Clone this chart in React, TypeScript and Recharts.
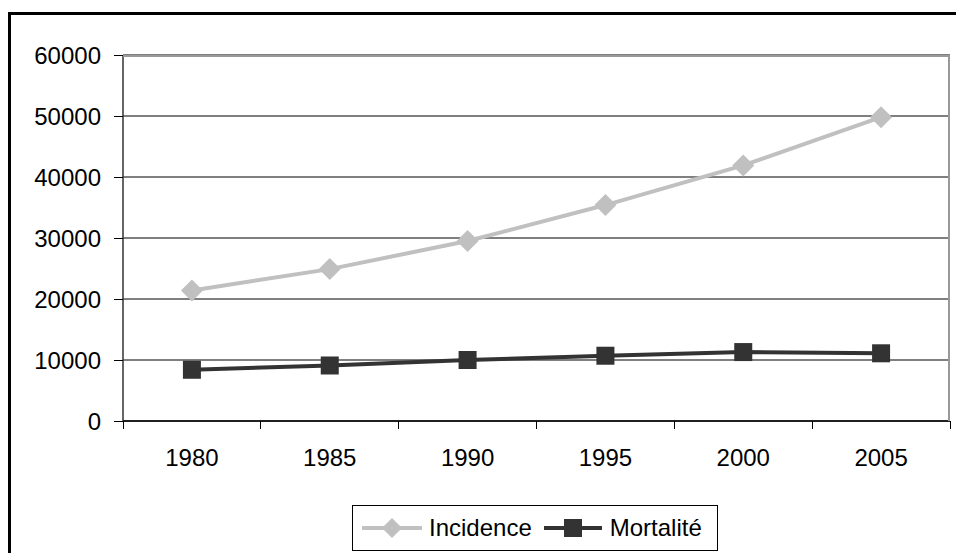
import React from 'react';
import { ComposedChart, Line, XAxis, YAxis, CartesianGrid } from 'recharts';

const years = ['1980', '1985', '1990', '1995', '2000', '2005'];
const incidence = [21400, 24900, 29500, 35400, 41900, 49800];
const mortalite = [8400, 9100, 10000, 10700, 11300, 11100];
const yTicks = [0, 10000, 20000, 30000, 40000, 50000, 60000];

const data = years.map((year, i) => ({ year, incidence: incidence[i], mortalite: mortalite[i] }));

const W = 956;
const H = 553;
const PLOT_LEFT = 123;
const PLOT_RIGHT = 950;
const BAND = (PLOT_RIGHT - PLOT_LEFT) / years.length;
const FONT = '"Liberation Sans", Arial, sans-serif';

const Diamond = (props: any) => {
  const { cx, cy, index } = props;
  if (cx == null || cy == null) return null;
  const r = 11;
  return (
    <path
      key={`d-${index}`}
      d={`M${cx},${cy - r}L${cx + r},${cy}L${cx},${cy + r}L${cx - r},${cy}Z`}
      fill="#c0c0c0"
    />
  );
};

const Square = (props: any) => {
  const { cx, cy, index } = props;
  if (cx == null || cy == null) return null;
  const s = 9;
  return <rect key={`s-${index}`} x={cx - s} y={cy - s} width={s * 2} height={s * 2} fill="#333333" />;
};

const XTick = (props: any) => {
  const { x, y, payload, index } = props;
  const axisY = y - 28;
  return (
    <g>
      <line x1={x - BAND / 2} x2={x - BAND / 2} y1={axisY} y2={axisY + 8} stroke="#000" strokeWidth={1} shapeRendering="crispEdges" />
      {index === years.length - 1 && (
        <line x1={x + BAND / 2} x2={x + BAND / 2} y1={axisY} y2={axisY + 8} stroke="#000" strokeWidth={1} shapeRendering="crispEdges" />
      )}
      <text x={x} y={y} dy="0.71em" textAnchor="middle" fontSize={24} fontFamily={FONT} fill="#000">
        {payload.value}
      </text>
    </g>
  );
};

const Legend = () => (
  <div
    style={{
      position: 'absolute',
      left: 352,
      top: 505,
      width: 366,
      height: 46,
      boxSizing: 'border-box',
      border: '1px solid #000',
      background: '#fff',
      display: 'flex',
      alignItems: 'center',
      fontFamily: FONT,
      fontSize: 24,
      color: '#000',
    }}
  >
    <svg width={68} height={30} style={{ marginLeft: 6 }}>
      <line x1={3} x2={63} y1={15} y2={15} stroke="#c0c0c0" strokeWidth={4} />
      <path d="M33,5L43,15L33,25L23,15Z" fill="#c0c0c0" />
    </svg>
    <span style={{ marginLeft: 2 }}>Incidence</span>
    <svg width={68} height={30} style={{ marginLeft: 8 }}>
      <line x1={4} x2={62} y1={15} y2={15} stroke="#333" strokeWidth={4} />
      <rect x={24} y={6} width={18} height={18} fill="#333" />
    </svg>
    <span style={{ marginLeft: 2 }}>Mortalité</span>
  </div>
);

export default function App() {
  return (
    <div style={{ position: 'absolute', left: 0, top: 0, width: W, height: H, overflow: 'hidden', background: '#fff' }}>
      <div
        style={{
          position: 'absolute',
          left: 8,
          top: 12,
          width: W + 20,
          height: H + 20,
          border: '3px solid #000',
        }}
      />
      <div style={{ position: 'absolute', left: 0, top: 0 }}>
        <ComposedChart width={W} height={H} data={data} margin={{ top: 55, right: W - PLOT_RIGHT, left: 8, bottom: 82 }}>
          <CartesianGrid
            vertical={false}
            horizontal={{ shapeRendering: 'crispEdges' } as any}
            stroke="#000"
            strokeWidth={1}
          />
          <XAxis
            dataKey="year"
            height={50}
            padding={{ left: BAND / 2, right: BAND / 2 }}
            axisLine={{ stroke: '#000', strokeWidth: 1.5 }}
            tickLine={false}
            tickSize={8}
            tickMargin={20}
            tick={<XTick />}
            interval={0}
          />
          <YAxis
            width={115}
            domain={[0, 60000]}
            ticks={yTicks}
            interval={0}
            axisLine={{ stroke: '#333', strokeWidth: 1.5 }}
            tickLine={{ stroke: '#000', shapeRendering: 'crispEdges' } as any}
            tickSize={9}
            tickMargin={13}
            tick={{ fontSize: 24, fontFamily: FONT, fill: '#000' }}
          />
          <Line
            dataKey="incidence"
            stroke="#c0c0c0"
            strokeWidth={4}
            dot={Diamond}
            activeDot={false}
            isAnimationActive={false}
          />
          <Line
            dataKey="mortalite"
            stroke="#333333"
            strokeWidth={4}
            dot={Square}
            activeDot={false}
            isAnimationActive={false}
          />
        </ComposedChart>
      </div>
      <div
        style={{
          position: 'absolute',
          left: PLOT_LEFT,
          top: 55,
          width: PLOT_RIGHT - PLOT_LEFT,
          height: 366,
          boxSizing: 'border-box',
          borderTop: '2px solid #999',
          borderRight: '2px solid #999',
          pointerEvents: 'none',
        }}
      />
      <Legend />
    </div>
  );
}
